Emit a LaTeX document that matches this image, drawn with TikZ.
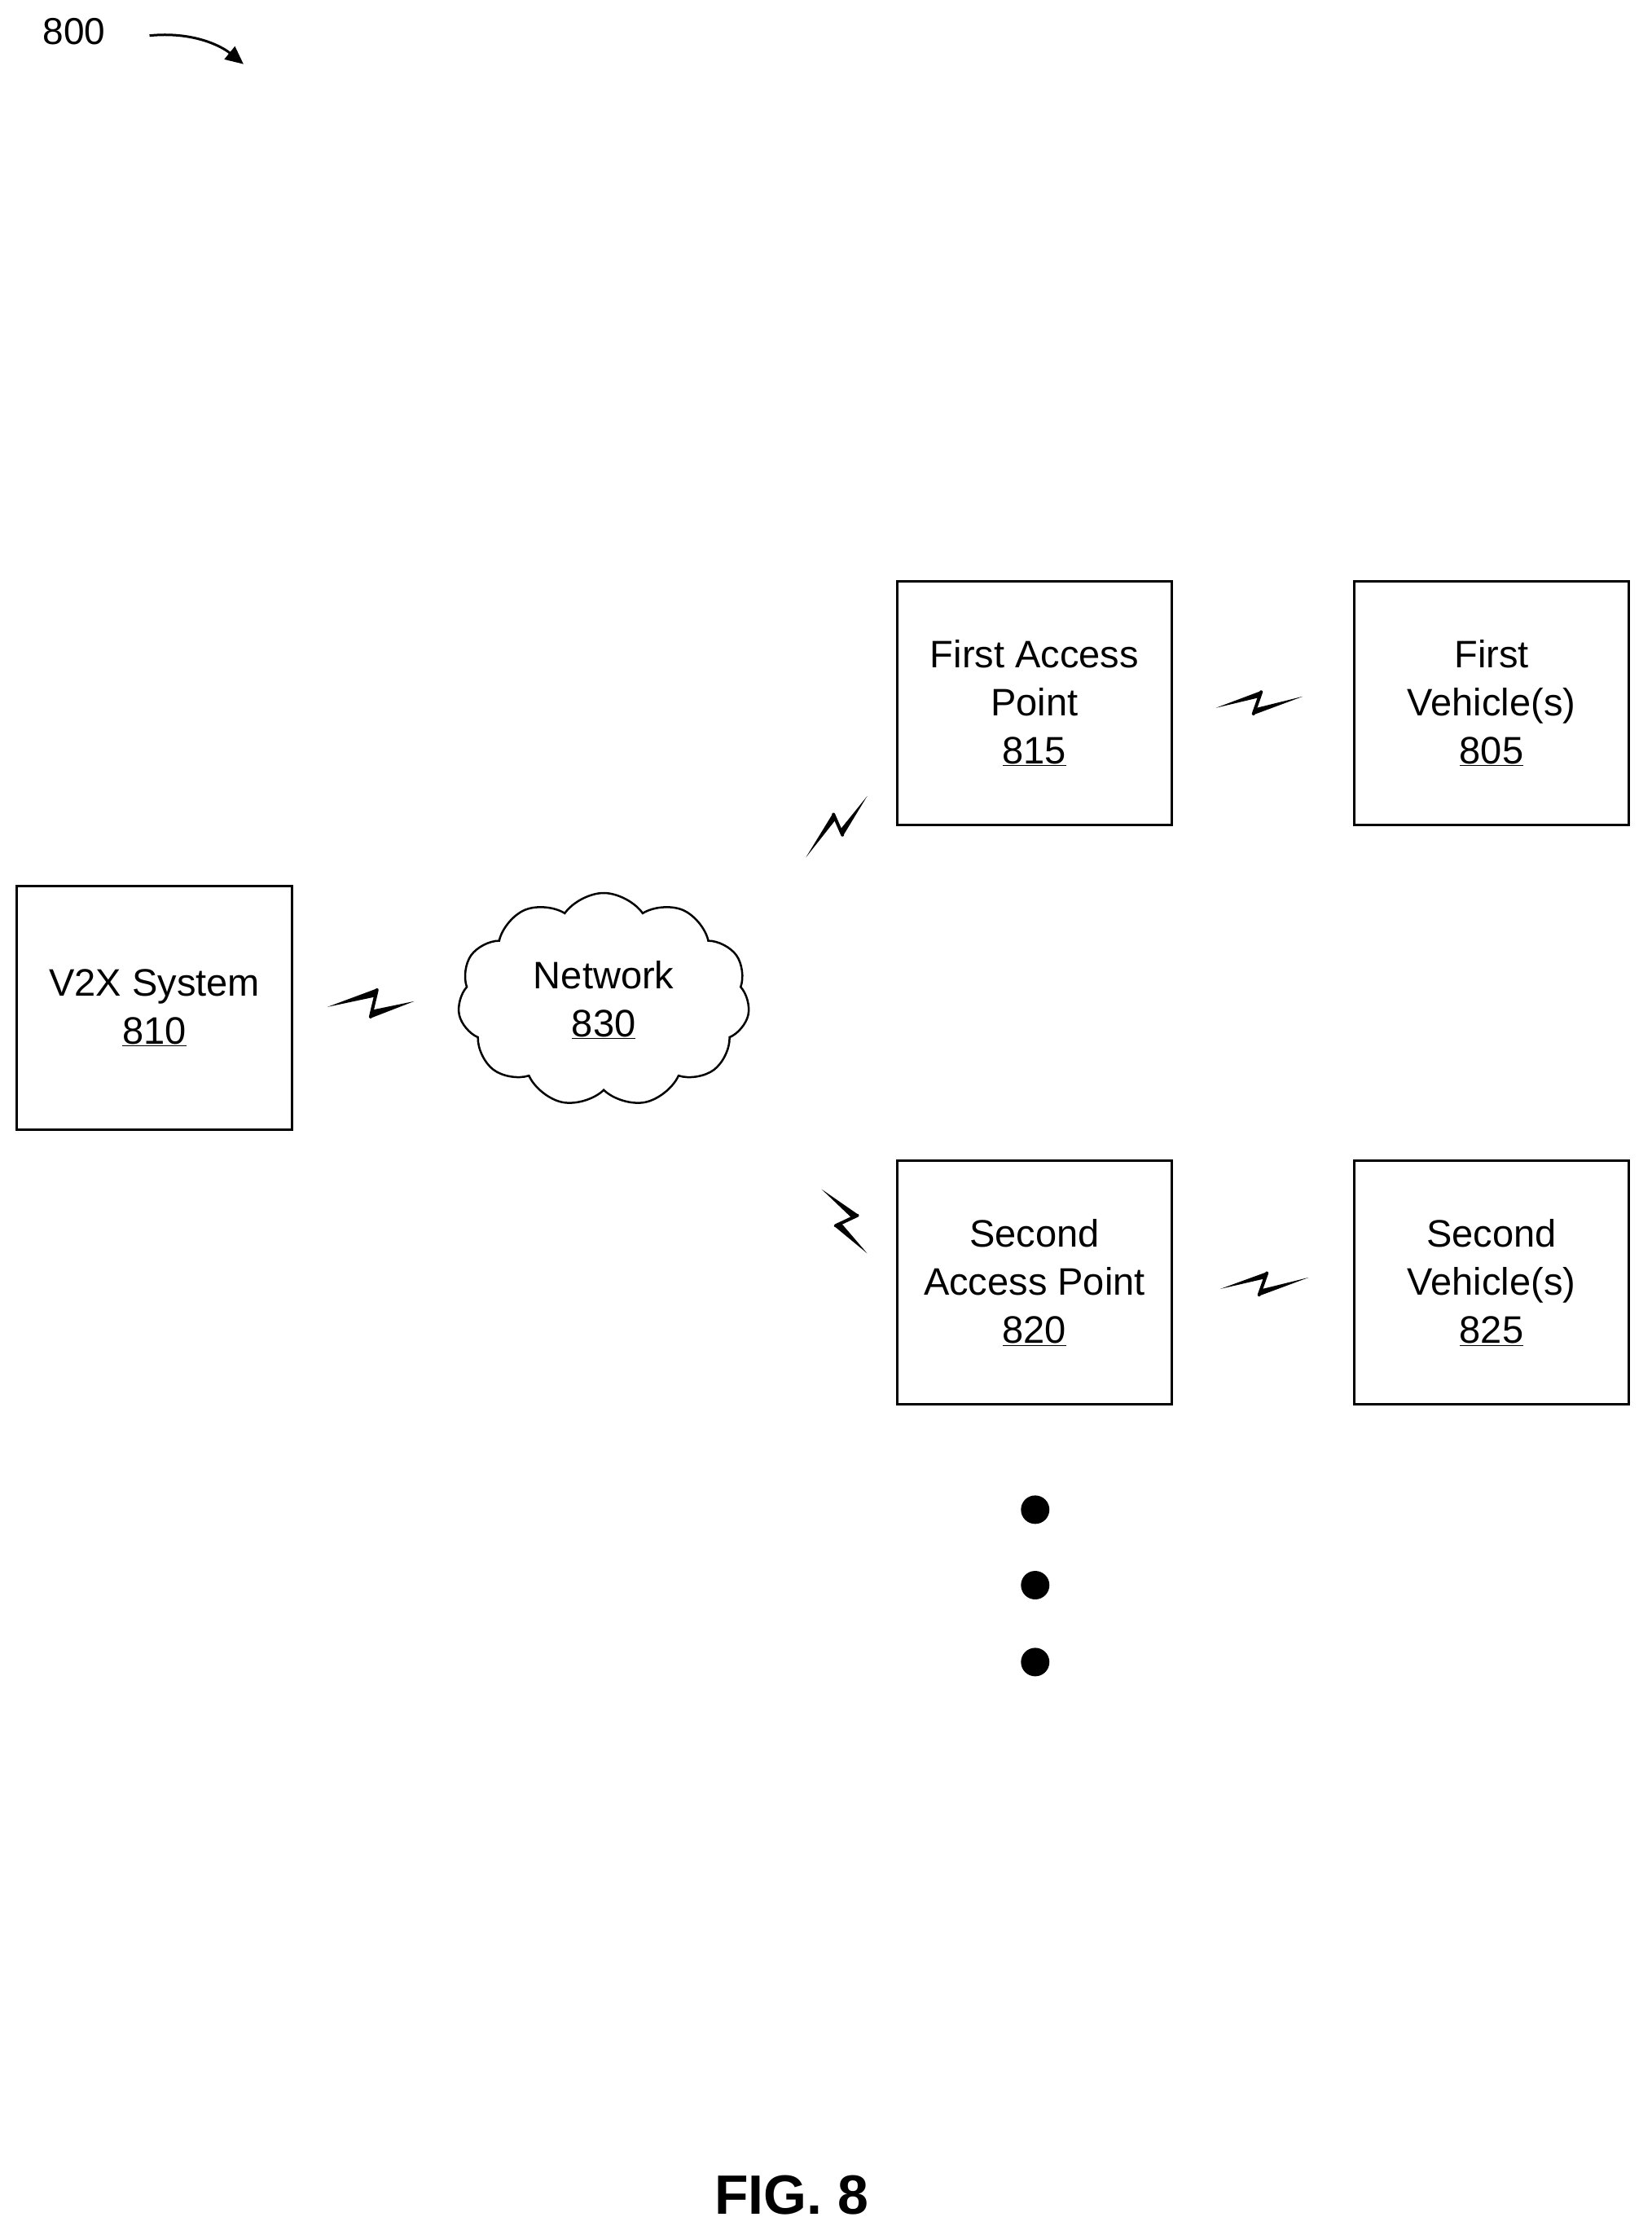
\documentclass[tikz,border=0pt]{standalone}
\usepackage{fontspec}
\setmainfont{Liberation Sans}
\usetikzlibrary{calc,shapes.symbols,arrows.meta}
\begin{document}
\begin{tikzpicture}[x=1.748pt,y=-1.748pt,
  box/.style={draw,line width=3pt,minimum width=193*1.748pt,minimum height=171*1.748pt,align=center,inner sep=0pt,
     font=\fontsize{47}{59}\selectfont},
  dot/.style={circle,fill,inner sep=0pt,minimum size=20*1.748pt}]
\useasboundingbox (0,0) rectangle (1160.2,1572.1);
\newcommand{\zbolt}[4]{%
  \fill ($#1$) -- ($#2$) -- ($#2!0.28!#3$) -- cycle;
  \fill ($#4$) -- ($#3$) -- ($#3!0.28!#2$) -- cycle;
  \draw[line width=4pt,line cap=round] ($#2!0.05!#3$) -- ($#3!0.05!#2$);}
\node[font=\fontsize{46}{50}\selectfont] (lbl) at (52,22) {800};
\coordinate (a0) at (105,25);
\coordinate (a1) at (171,45);
\draw[line width=3pt,-{Triangle[length=22pt,width=20pt]}] (a0) .. controls (135,22) and (155,32) .. (a1);
\node[box] (v2x) at (108.5,707.5) {V2X System\\\underline{810}};
\node[cloud,draw,line width=2.5pt,cloud puffs=11,cloud puff arc=110,aspect=1.4,
  minimum width=205*1.748pt,minimum height=150*1.748pt,inner sep=0pt,align=center,
  font=\fontsize{47}{59}\selectfont] (net) at (424,702) {Network\\\underline{830}};
\node[box] (ap1) at (726.5,493.5) {First Access\\Point\\\underline{815}};
\node[box] (v1) at (1047.5,493.5) {First\\Vehicle(s)\\\underline{805}};
\node[box] (ap2) at (726.5,900.5) {Second\\Access Point\\\underline{820}};
\node[box] (v2) at (1047.5,900.5) {Second\\Vehicle(s)\\\underline{825}};
\zbolt{(230,707)}{(265,694)}{(260,715)}{(291,703)}
\zbolt{(566,602)}{(585,571)}{(592,587)}{(609,559)}
\zbolt{(577,835)}{(603,853)}{(586,861)}{(609,880)}
\zbolt{(854,497)}{(886,485)}{(880,502)}{(915,489)}
\zbolt{(857,905)}{(890,893)}{(884,910)}{(919,897)}
\node[dot] (d1) at (727,1060) {};
\node[dot] (d2) at (727,1113) {};
\node[dot] (d3) at (727,1167) {};
\node[font=\fontsize{68}{72}\selectfont\bfseries] (fig) at (556,1541) {FIG. 8};
\end{tikzpicture}
\end{document}
